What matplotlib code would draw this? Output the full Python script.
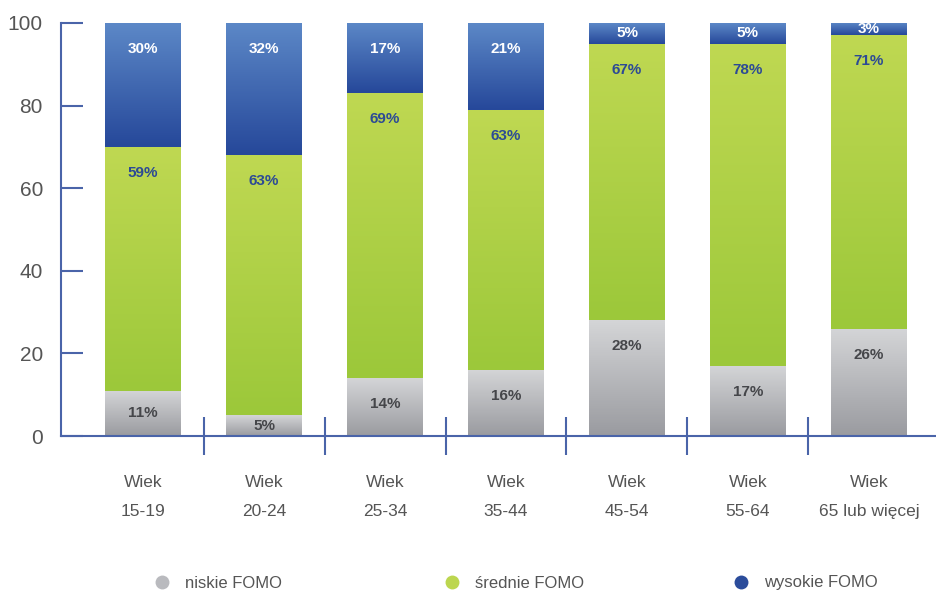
import matplotlib
matplotlib.use("Agg")
import matplotlib.pyplot as plt
import numpy as np
from matplotlib.colors import LinearSegmentedColormap
from matplotlib.lines import Line2D

# ---- data ----
age_top = ["Wiek"] * 7
age_groups = ["15-19", "20-24", "25-34", "35-44", "45-54", "55-64", "65 lub więcej"]
niskie = [11, 5, 14, 16, 28, 17, 26]
srednie = [59, 63, 69, 63, 67, 78, 71]
wysokie = [30, 32, 17, 21, 5, 5, 3]
series_names = ["niskie FOMO", "średnie FOMO", "wysokie FOMO"]
yticks = [0, 20, 40, 60, 80, 100]

# ---- style ----
plt.rcParams['font.family'] = ['Liberation Sans', 'DejaVu Sans']
axis_col = "#4a64a9"
text_col = "#555555"
grad = {
    "niskie FOMO": ("#d4d5d7", "#9a9ba0"),
    "średnie FOMO": ("#bfd852", "#9cc83a"),
    "wysokie FOMO": ("#5c88c7", "#26489a"),
}
label_col = {"niskie FOMO": "#45464a", "średnie FOMO": "#2c4a95", "wysokie FOMO": "white"}
legend_col = {"niskie FOMO": "#b9babe", "średnie FOMO": "#bcd64f", "wysokie FOMO": "#2b4c9b"}

W, H = 936, 591
fig = plt.figure(figsize=(W / 100, H / 100), dpi=100)
ax = fig.add_axes([61 / W, (H - 436) / H, (W - 61) / W, (436 - 23) / H])

x = np.arange(len(age_groups))
width = 0.628
bottom = np.zeros(len(x))
for name, vals in zip(series_names, [niskie, srednie, wysokie]):
    vals = np.array(vals, dtype=float)
    bars = ax.bar(x, vals, width, bottom=bottom, color="none", edgecolor="none", label=name)
    top_c, bot_c = grad[name]
    cmap = LinearSegmentedColormap.from_list(name, [bot_c, top_c])
    g = np.linspace(0, 1, 100).reshape(-1, 1)
    for b, v in zip(bars, vals):
        x0, y0 = b.get_x(), b.get_y()
        x1, y1 = x0 + b.get_width(), y0 + b.get_height()
        ax.imshow(g, extent=[x0, x1, y0, y1], origin="lower", aspect="auto",
                  cmap=cmap, zorder=2, interpolation="bilinear")
        off = min(6.3, v / 2)
        ax.text(b.get_x() + b.get_width() / 2, y1 - off, f"{int(v)}%",
                ha="center", va="center", fontsize=11, fontweight="bold",
                color=label_col[name], zorder=4)
    bottom = bottom + vals

ax.set_xlim(-0.678, 6.554)
ax.set_ylim(0, 100)

for s in ["top", "right"]:
    ax.spines[s].set_visible(False)
ax.spines["left"].set_color(axis_col)
ax.spines["bottom"].set_color(axis_col)
ax.spines["left"].set_linewidth(1.5)
ax.spines["bottom"].set_linewidth(1.5)
ax.spines["left"].set_zorder(5)

ax.set_yticks(yticks)
ax.set_yticklabels([str(t) for t in yticks])
ax.tick_params(axis="y", direction="in", length=16, width=1.5, color=axis_col,
               labelsize=15, labelcolor=text_col, pad=13)
ax.set_xticks(x)
ax.set_xticklabels([f"{a}\n{b}" for a, b in zip(age_top, age_groups)],
                   fontsize=12.5, color=text_col, linespacing=2.2)
ax.tick_params(axis="x", length=0, pad=28)

# group separators crossing the x axis
ax.vlines(x[:-1] + 0.5, -4.6, 4.6, color=axis_col, linewidth=1.5, clip_on=False, zorder=5)

# legend
handle_x = [162, 452, 741]
for name, hx in zip(series_names, handle_x):
    h = Line2D([], [], marker="o", linestyle="none", markersize=10,
               markerfacecolor=legend_col[name], markeredgecolor="none")
    fig.legend([h], [name], loc="center left",
               bbox_to_anchor=((hx - 17) / W, (H - 583) / H),
               frameon=False, fontsize=12, handletextpad=0.4,
               labelcolor=text_col, borderaxespad=0, borderpad=0)

fig.savefig("out.png", dpi=100)
